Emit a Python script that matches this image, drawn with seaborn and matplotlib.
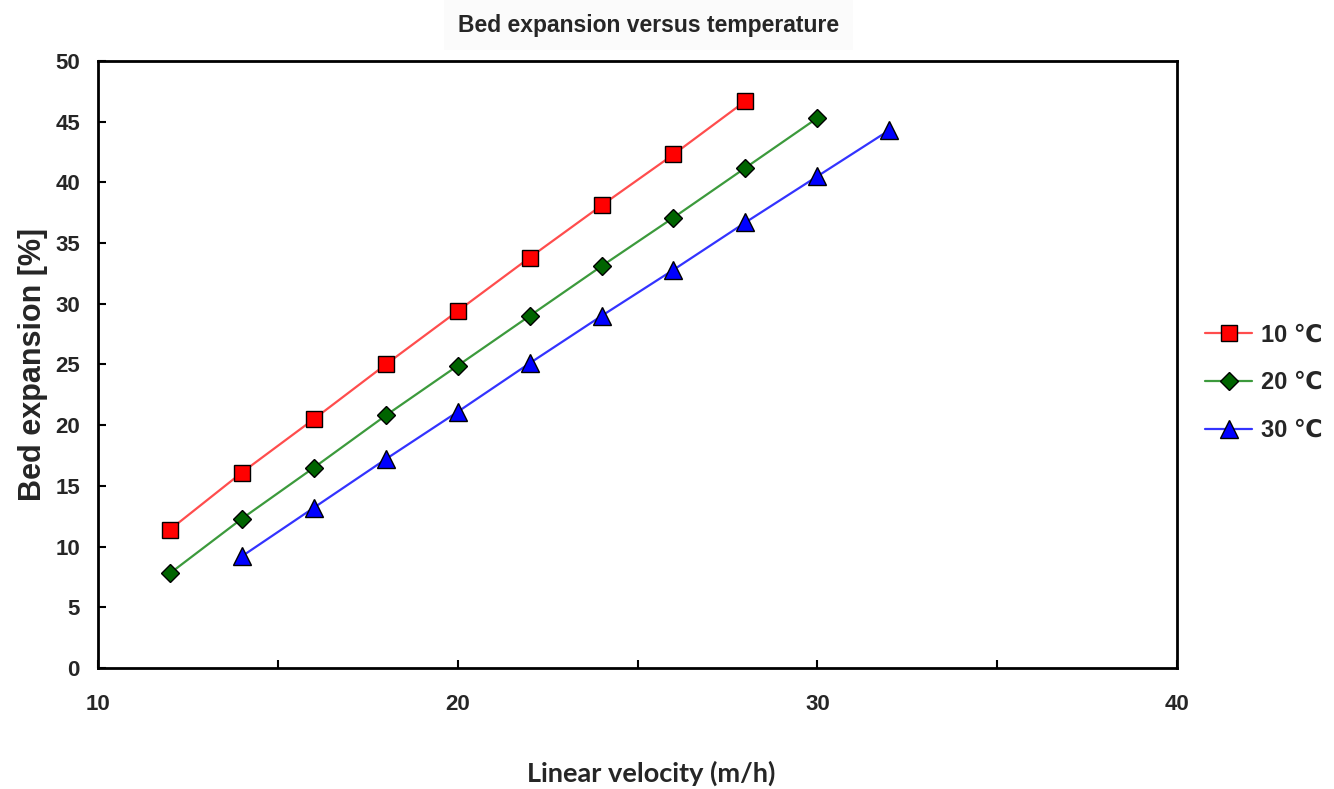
import matplotlib
matplotlib.use("Agg")
import matplotlib.pyplot as plt
import seaborn as sns
import pandas as pd

sns.set_theme(style="white")
plt.rcParams['font.family'] = ['Liberation Sans', 'DejaVu Sans']

x_10 = [12, 14, 16, 18, 20, 22, 24, 26, 28]
y_10 = [11.4, 16.1, 20.5, 25.0, 29.4, 33.8, 38.1, 42.3, 46.7]
x_20 = [12, 14, 16, 18, 20, 22, 24, 26, 28, 30]
y_20 = [7.8, 12.3, 16.5, 20.8, 24.9, 29.0, 33.1, 37.1, 41.2, 45.3]
x_30 = [14, 16, 18, 20, 22, 24, 26, 28, 30, 32]
y_30 = [9.2, 13.2, 17.2, 21.1, 25.1, 29.0, 32.8, 36.7, 40.5, 44.3]
labels = ["10 \u2103", "20 \u2103", "30 \u2103"]
x_ticks = [10, 15, 20, 25, 30, 35, 40]
x_ticklabels = ["10", "", "20", "", "30", "", "40"]
y_ticks = [0, 5, 10, 15, 20, 25, 30, 35, 40, 45, 50]

series = [
    (x_10, y_10, labels[0], "#ff4d4d", "#ff0000", "s", 12),
    (x_20, y_20, labels[1], "#3c9a3c", "#006400", "D", 9),
    (x_30, y_30, labels[2], "#3333ff", "#0000ff", "^", 13),
]

fig = plt.figure(figsize=(13.34, 7.89), dpi=100)
ax = fig.add_axes([0.0735, 0.1534, 0.8088, 0.7693])

for xs, ys, lab, lc, mc, mk, ms in series:
    df = pd.DataFrame({"x": xs, "y": ys})
    sns.lineplot(data=df, x="x", y="y", ax=ax, color=lc, linewidth=1.6,
                 marker=mk, markersize=ms, markerfacecolor=mc,
                 markeredgecolor="black", markeredgewidth=1.0, label=lab)

ax.set_xlim(10, 40)
ax.set_ylim(0, 50)
ax.set_xticks(x_ticks)
ax.set_xticklabels(x_ticklabels)
ax.set_yticks(y_ticks)
ax.tick_params(axis="both", direction="in", length=6, width=1.5, color="black",
               labelsize=16, bottom=True, left=True)
ax.tick_params(axis="x", pad=19)
ax.tick_params(axis="y", pad=13)
for lbl in ax.get_xticklabels() + ax.get_yticklabels():
    lbl.set_fontweight("bold")
for sp in ax.spines.values():
    sp.set_visible(True)
    sp.set_color("black")
    sp.set_linewidth(2)

ax.set_xlabel("")
ax.set_ylabel("Bed expansion [%]", fontsize=22, fontweight="bold", labelpad=5)
fig.text(0.488, 0.02, "Linear velocity (m/h)", ha="center", va="center",
         fontsize=19.5, fontweight="bold", family=["Lato", "DejaVu Sans"])
fig.text(0.486, 0.968, "Bed expansion versus temperature", ha="center", va="center",
         fontsize=16.5, fontweight="bold",
         bbox=dict(boxstyle="square,pad=0.6", facecolor="#fbfbfb", edgecolor="none"))

leg = ax.legend(loc="center left", bbox_to_anchor=(1.026, 0.47), frameon=False,
                prop={"size": 17, "weight": "bold"}, handlelength=2.0,
                labelspacing=1.05, handletextpad=0.35, borderpad=0, borderaxespad=0)

fig.savefig("out.png", dpi=100)
